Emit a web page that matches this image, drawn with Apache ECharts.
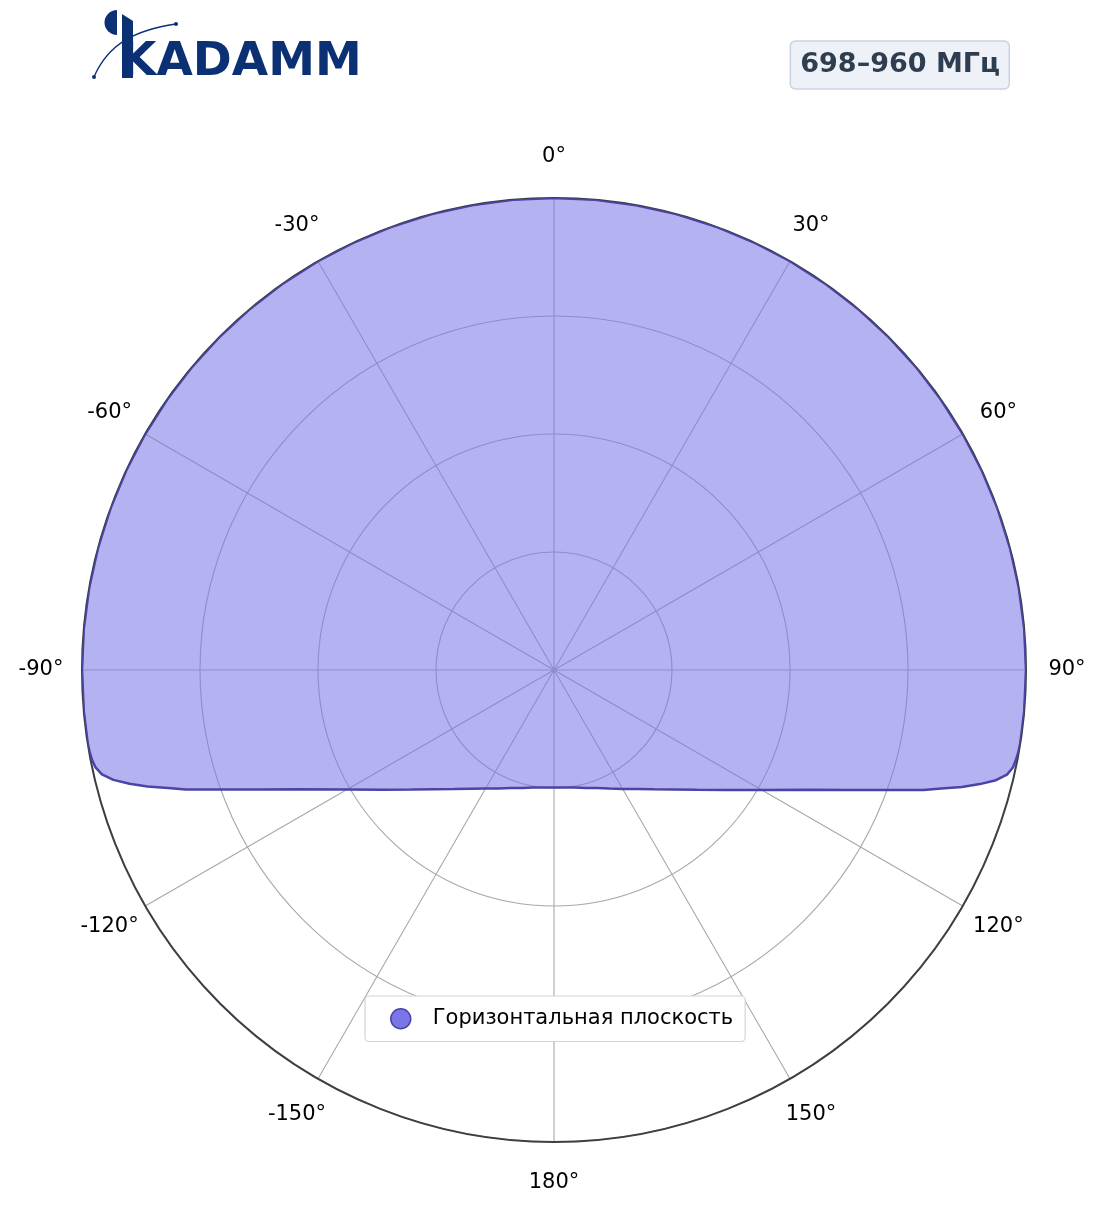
<!DOCTYPE html>
<html>
<head>
<meta charset="utf-8">
<script src="https://cdn.jsdelivr.net/npm/echarts@6/dist/echarts.min.js"></script>
<style>
  html, body { margin: 0; padding: 0; background: #ffffff; }
  #chart { width: 1104px; height: 1211px; }
</style>
</head>
<body>
<div id="chart"></div>
<script>
// ---- data ----
const seriesName = 'Горизонтальная плоскость';
const bandLabel = '698–960 МГц';
const angleTicks = [-180, -150, -120, -90, -60, -30, 0, 30, 60, 90, 120, 150, 180];

const angles = [
  -180, -175, -170, -165, -160, -155, -150, -145, -140, -135, -130, -125, -120,
  -115, -112, -110, -108, -107, -106, -105, -104, -103, -102, -101, -100, -99,
  -95, -90, -85, -80, -75, -70, -65, -60, -55, -50, -45, -40, -35, -30, -25, -20,
  -15, -10, -5, 0, 5, 10, 15, 20, 25, 30, 35, 40, 45, 50, 55, 60, 65, 70, 75, 80,
  85, 90, 95,
  99, 100, 101, 102, 103, 104, 105, 106, 107, 108, 110, 112, 115,
  120, 125, 130, 135, 140, 145, 150, 155, 160, 165, 170, 175, 180
];
const gains = [
  0.249, 0.250, 0.253, 0.259, 0.266, 0.277, 0.290, 0.307, 0.329, 0.357, 0.394, 0.442, 0.506,
  0.598, 0.676, 0.741, 0.820, 0.855, 0.896, 0.931, 0.962, 0.983, 0.993, 0.997, 0.999, 1.000,
  1.000, 1.000, 1.000, 1.000, 1.000, 1.000, 1.000, 1.000, 1.000, 1.000, 1.000, 1.000, 1.000, 1.000, 1.000, 1.000,
  1.000, 1.000, 1.000, 1.000, 1.000, 1.000, 1.000, 1.000, 1.000, 1.000, 1.000, 1.000, 1.000, 1.000, 1.000, 1.000, 1.000, 1.000, 1.000, 1.000,
  1.000, 1.000, 1.000,
  1.000, 0.999, 0.997, 0.994, 0.985, 0.965, 0.934, 0.899, 0.858, 0.823, 0.744, 0.678, 0.600,
  0.508, 0.443, 0.395, 0.358, 0.330, 0.308, 0.291, 0.277, 0.266, 0.259, 0.253, 0.250, 0.249
];
const radiusTicks = [0, 0.25, 0.5, 0.75, 1];

// ---- chart ----
const chart = echarts.init(document.getElementById('chart'), null, { renderer: 'canvas' });
const seriesData = angles.map((a, i) => [gains[i], a]);
const FONT = 'DejaVu Sans';
const NAVY = '#0b3174';

const option = {
  animation: false,
  backgroundColor: '#ffffff',
  title: {
    text: bandLabel,
    right: 94,
    top: 41,
    padding: [9, 10, 9, 10],
    backgroundColor: '#eef2f8',
    borderColor: '#c9d3e0',
    borderWidth: 1.5,
    borderRadius: 5,
    textStyle: { fontFamily: FONT, fontSize: 27, fontWeight: 'bold', color: '#2e3d50', lineHeight: 30 }
  },
  legend: {
    data: [{
      name: seriesName,
      icon: 'circle',
      itemStyle: { color: '#7b76e8', borderColor: '#4a44a8', borderWidth: 1.5 }
    }],
    left: 365,
    top: 996,
    itemWidth: 20,
    itemHeight: 20,
    padding: [12, 12, 12, 25],
    backgroundColor: '#ffffff',
    borderColor: '#d3d3dc',
    borderWidth: 1.2,
    borderRadius: 4,
    textStyle: { fontFamily: FONT, fontSize: 21, color: '#000000', padding: [0, 0, 0, 17] }
  },
  polar: { center: [554, 670], radius: 472 },
  angleAxis: {
    type: 'value',
    min: angleTicks[0],
    max: angleTicks[angleTicks.length - 1],
    interval: 30,
    startAngle: -90,
    clockwise: true,
    axisLine: { show: true, lineStyle: { color: '#3d3f47', width: 2 } },
    axisTick: { show: false },
    splitLine: { show: true, lineStyle: { color: '#a8a8a8', width: 1.1 } },
    axisLabel: {
      show: true,
      margin: 40,
      formatter: function (v) {
        const t = (v === -180 ? 180 : v) + '°';
        return '{a|' + t + '}';
      },
      rich: {
        a: { fontFamily: FONT, fontSize: 21, color: '#000000', width: 2, lineHeight: 2, align: 'center' }
      }
    }
  },
  radiusAxis: {
    type: 'value',
    min: radiusTicks[0],
    max: radiusTicks[radiusTicks.length - 1],
    interval: 0.25,
    axisLine: { show: false },
    axisTick: { show: false },
    axisLabel: { show: false },
    splitLine: { show: true, lineStyle: { color: '#a8a8a8', width: 1.1 } }
  },
  series: [{
    name: seriesName,
    type: 'line',
    coordinateSystem: 'polar',
    data: seriesData,
    showSymbol: false,
    smooth: false,
    clip: false,
    z: 3,
    itemStyle: { color: '#7b76e8', borderColor: '#4a44a8' },
    lineStyle: { color: '#4a44a8', width: 2.5 },
    areaStyle: { color: '#7b76e8', opacity: 0.56 }
  }],
  graphic: [
    { type: 'sector', shape: { cx: 117, cy: 22.5, r: 12.5, r0: 0, startAngle: Math.PI / 2, endAngle: Math.PI * 1.5 }, style: { fill: NAVY } },
    { type: 'polygon', shape: { points: [[122, 14], [133, 21], [133, 78], [122, 78]] }, style: { fill: NAVY } },
    { type: 'text', left: 120, top: 39, style: { text: 'KADAMM', fontFamily: FONT, fontSize: 47, fontWeight: 'bold', fill: NAVY } },
    { type: 'bezierCurve', shape: { x1: 94, y1: 77, cpx1: 108, cpy1: 44, cpx2: 135, cpy2: 30, x2: 176, y2: 24 }, style: { stroke: NAVY, lineWidth: 1.3, fill: null } },
    { type: 'circle', shape: { cx: 94, cy: 77, r: 2 }, style: { fill: NAVY } },
    { type: 'circle', shape: { cx: 176, cy: 24, r: 2 }, style: { fill: NAVY } }
  ]
};
chart.setOption(option);
</script>
</body>
</html>
